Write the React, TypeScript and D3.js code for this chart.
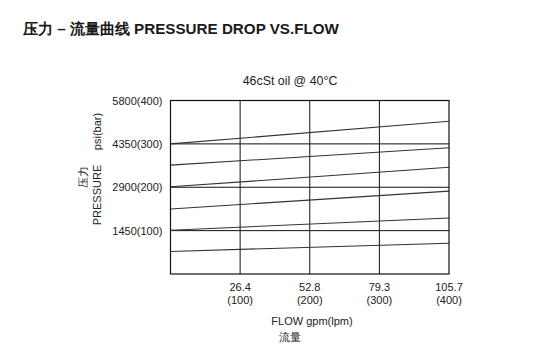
import React from 'react';
import * as d3 from 'd3';

// flow ticks (lpm) with their gpm labels
const flowLpm = [100, 200, 300, 400];
const flowGpm = ['26.4', '52.8', '79.3', '105.7'];

// pressure ticks (bar) with their psi labels
const pressureBar = [100, 200, 300, 400];
const pressurePsi = ['1450', '2900', '4350', '5800'];

// each curve is a straight line: pressure at 0 lpm and at 400 lpm
const curveStart = [300, 251, 201, 150, 101, 52];
const curveEnd = [352, 291, 246, 191, 129, 71];

const title = '压力 – 流量曲线 PRESSURE DROP VS.FLOW';
const subtitle = '46cSt oil @ 40°C';

const W = 551;
const H = 363;
const margin = { top: 100.5, right: 102, bottom: 89, left: 170.5 };
const font = '"Liberation Sans", Arial, sans-serif';

const App = () => {
  const x = d3.scaleLinear().domain([0, 400]).range([margin.left, W - margin.right]);
  const y = d3.scaleLinear().domain([0, 400]).range([H - margin.bottom, margin.top]);

  const line = d3.line<[number, number]>()
    .x(d => x(d[0]))
    .y(d => y(d[1]));

  const curves = curveStart.map((p0, i) => [[0, p0], [400, curveEnd[i]]] as [number, number][]);

  const x0 = x(0);
  const x1 = x(400);
  const y0 = y(0);
  const y1 = y(400);

  return (
    <svg width={W} height={H} style={{ position: 'absolute', left: 0, top: 0, fontFamily: font }}>
      <rect width={W} height={H} fill="#fff" />
      <text x={23} y={34} fontSize={15.2} fontWeight="bold" fill="#1a1a1a">{title}</text>
      <text x={290} y={85} fontSize={12.4} textAnchor="middle" fill="#222">{subtitle}</text>

      {/* grid */}
      {flowLpm.slice(0, -1).map(v => (
        <line key={'gx' + v} x1={x(v)} x2={x(v)} y1={y0} y2={y1} stroke="#111" strokeWidth={1} />
      ))}
      {pressureBar.slice(0, -1).map(v => (
        <line key={'gy' + v} x1={x0} x2={x1} y1={y(v)} y2={y(v)} stroke="#111" strokeWidth={1} />
      ))}

      {/* curves */}
      {curves.map((c, i) => (
        <path key={'c' + i} d={line(c) || ''} fill="none" stroke="#333" strokeWidth={1.1} />
      ))}

      <rect x={x0} y={y1} width={x1 - x0} height={y0 - y1} fill="none" stroke="#111" strokeWidth={1.2} />

      {/* y ticks */}
      {pressureBar.map((v, i) => (
        <text key={'ty' + v} x={x0 - 8} y={y(v) + 4} fontSize={11} textAnchor="end" fill="#222">
          {pressurePsi[i]}({v})
        </text>
      ))}

      {/* x ticks */}
      {flowLpm.map((v, i) => (
        <g key={'tx' + v} fontSize={11} fill="#222" textAnchor="middle">
          <text x={x(v)} y={291}>{flowGpm[i]}</text>
          <text x={x(v)} y={304}>({v})</text>
        </g>
      ))}

      <text x={312} y={325} fontSize={11} textAnchor="middle" fill="#222">FLOW gpm(lpm)</text>
      <text x={290} y={341} fontSize={11} textAnchor="middle" fill="#222">流量</text>

      <text transform="translate(101,195) rotate(-90)" fontSize={11} textAnchor="middle" fill="#222">PRESSURE</text>
      <text transform="translate(101,131.5) rotate(-90)" fontSize={11} textAnchor="middle" fill="#222">psi(bar)</text>
      <text transform="translate(87,176.5) rotate(-90)" fontSize={11} textAnchor="middle" fill="#222">压力</text>
    </svg>
  );
};

export default App;
